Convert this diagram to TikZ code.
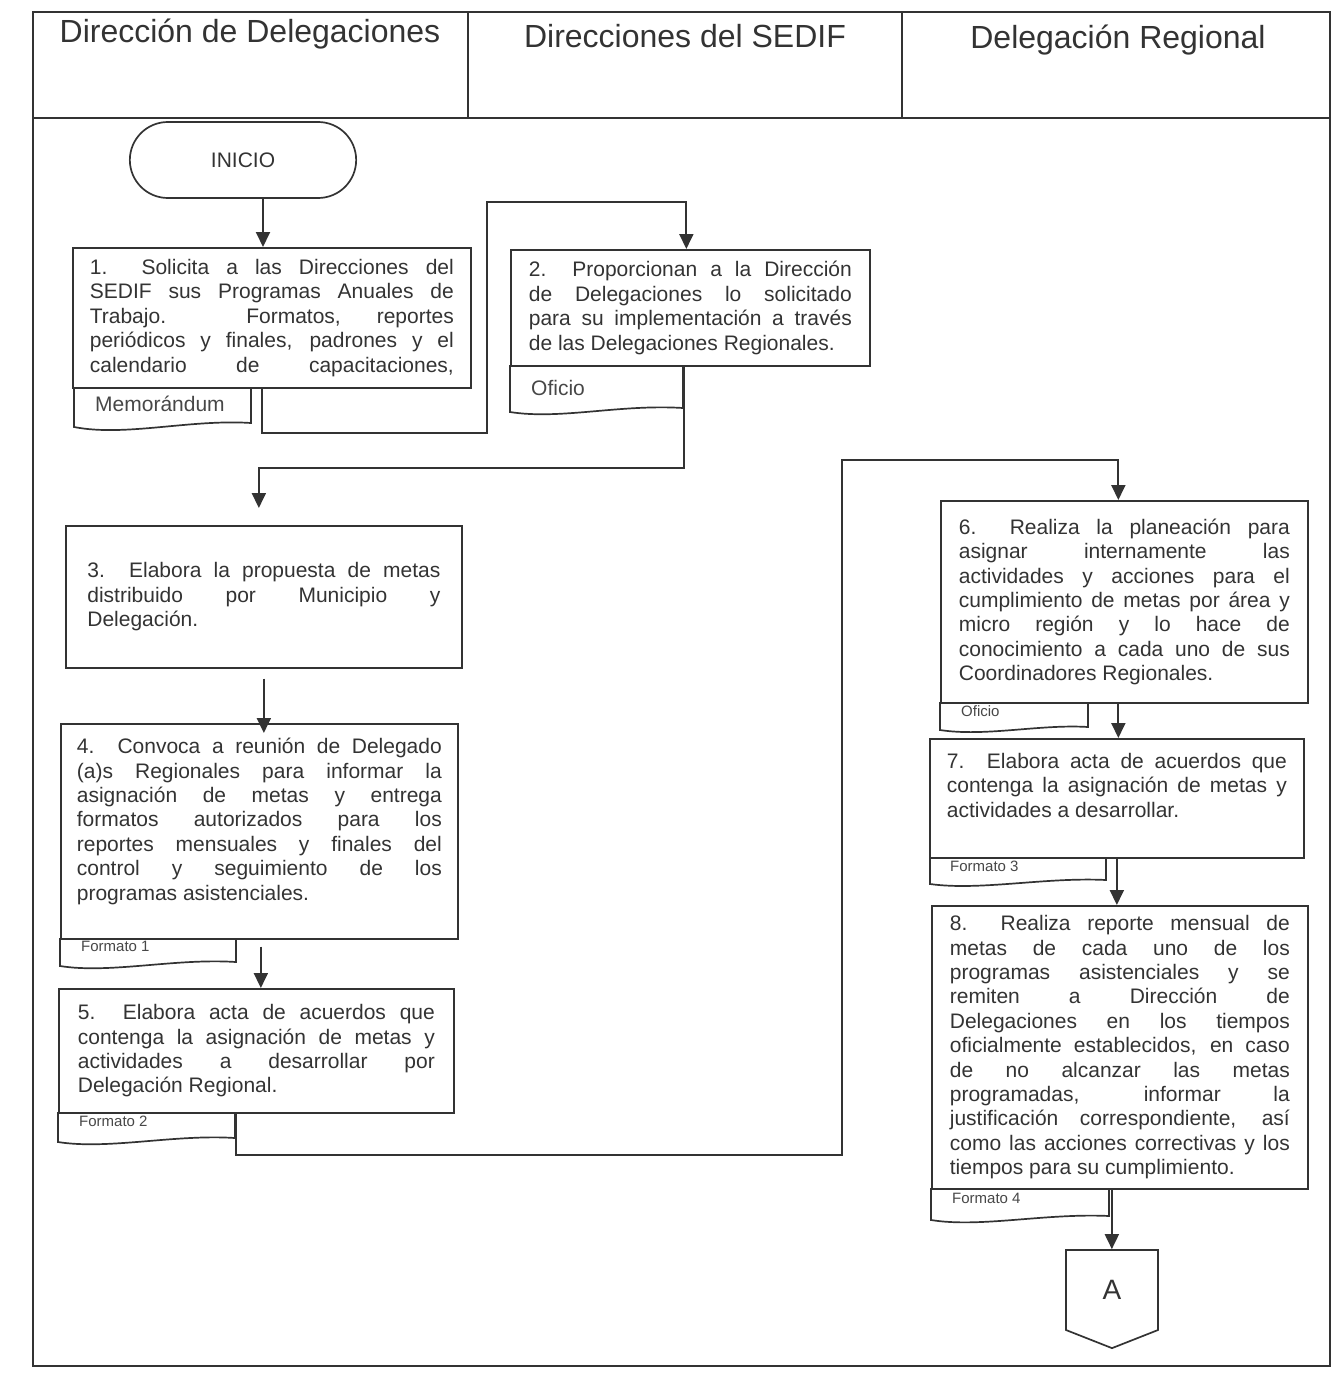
\documentclass[tikz,border=0pt]{standalone}
\usepackage{fontspec}
\setmainfont{Liberation Sans}
\usetikzlibrary{arrows.meta, shapes.misc, shapes.symbols}
\definecolor{ink}{HTML}{333333}
\newcommand\bodyfont{\fontsize{21}{24.4}\selectfont\tolerance=10000 \hyphenpenalty=10000 }

\begin{document}
\begin{tikzpicture}[x=1pt, y=-1pt,
    frame/.style = {
        draw=ink, line width=1.8pt
    },
    title/.style = {
        font=\fontsize{32}{38}\selectfont, text=ink
    },
    box/.style = {
        draw=ink, line width=1.7pt, anchor=north west, align=justify,
        font=\bodyfont, text=ink
    },
    tagline/.style = {
        draw=ink, line width=1.7pt
    },
    tagtext/.style = {
        anchor=north west, inner sep=0pt, text=ink!90
    },
    arrow/.style = {
        -{Triangle[length=15pt, width=14pt]}, line width=1.9pt, draw=ink
    }
]
\useasboundingbox (0,0) rectangle (1342,1375);

% Frame ── swimlanes
\draw[frame] (33,12) rectangle (1330,1366);
\draw[frame] (33,118) -- (1330,118);
\draw[frame] (468,12) -- (468,118);
\draw[frame] (902,12) -- (902,118);

\node[title] (lane1) at (250,34) {Dirección de Delegaciones};
\node[title] (lane2) at (685,36) {Direcciones del SEDIF};
\node[title] (lane3) at (1118,40) {Delegación Regional};

% Column 1 ── Dirección de Delegaciones
\node[draw=ink, line width=1.7pt, rounded rectangle, minimum width=233, minimum height=76,
      font=\bodyfont, text=ink] (inicio) at (243,160) {INICIO};

\node[box, text width=364, inner xsep=17, minimum width=398, minimum height=140] (b1) at (72,247)
    {1.~~Solicita a las Direcciones del\linebreak SEDIF sus Programas Anuales de\linebreak
     Trabajo. Formatos, reportes\linebreak periódicos y finales, padrones y el\linebreak
     calendario de capacitaciones,{\parfillskip=0pt\par}};

\node[box, text width=353, inner xsep=21.5, minimum width=396, minimum height=142] (b3) at (65,525)
    {3.~~Elabora la propuesta de metas\linebreak distribuido por Municipio y\linebreak Delegación.};

\node[box, text width=365, inner xsep=16, minimum width=397, minimum height=215] (b4) at (60,723)
    {4.~~Convoca a reunión de Delegado\linebreak (a)s Regionales para informar la\linebreak
     asignación de metas y entrega\linebreak formatos autorizados para los\linebreak
     reportes mensuales y finales del\linebreak control y seguimiento de los\linebreak
     programas asistenciales.\par\vspace{20pt}};

\node[box, text width=357, inner xsep=19, minimum width=395, minimum height=124] (b5) at (58,988)
    {5.~~Elabora acta de acuerdos que\linebreak contenga la asignación de metas y\linebreak
     actividades a desarrollar por\linebreak Delegación Regional.};

% Column 2 ── Direcciones del SEDIF
\node[box, text width=323, inner xsep=18, minimum width=359, minimum height=116] (b2) at (510,249)
    {2.~~Proporcionan a la Dirección\linebreak de Delegaciones lo solicitado\linebreak
     para su implementación a través\linebreak de las Delegaciones Regionales.};

% Column 3 ── Delegación Regional
\node[box, text width=331, inner xsep=18, minimum width=367, minimum height=202] (b6) at (940,500)
    {6.~~Realiza la planeación para\linebreak asignar internamente las\linebreak
     actividades y acciones para el\linebreak cumplimiento de metas por área y\linebreak
     micro región y lo hace de\linebreak conocimiento a cada uno de sus\linebreak
     Coordinadores Regionales.};

\node[box, text width=340, inner xsep=17, minimum width=374, minimum height=119] (b7) at (929,738)
    {7. Elabora acta de acuerdos que\linebreak contenga la asignación de metas y\linebreak
     actividades a desarrollar.\par\vspace{26pt}};

\node[box, text width=340, inner xsep=18, minimum width=376, minimum height=283] (b8) at (931,905)
    {8.~~Realiza reporte mensual de\linebreak metas de cada uno de los\linebreak
     programas asistenciales y se\linebreak remiten a Dirección de\linebreak
     Delegaciones en los tiempos\linebreak oficialmente establecidos, en caso\linebreak
     de no alcanzar las metas\linebreak programadas, informar la\linebreak
     justificación correspondiente, así\linebreak como las acciones correctivas y los\linebreak
     tiempos para su cumplimiento.};

\node[draw=ink, line width=1.7pt, signal, signal to=south, signal pointer angle=137,
      minimum width=92, minimum height=85, font=\fontsize{28}{32}\selectfont, text=ink]
      (conA) at (1112,1290) {A};

% Document tags
\draw[tagline] (74,387) -- (74,427) .. controls (125,437) and (190,419) .. (251,423) -- (251,387);
\node[tagtext, font=\fontsize{21}{24}\selectfont] (memo) at (95,396) {Memorándum};

\draw[tagline] (510,365) -- (510,412) .. controls (560,420) and (620,404) .. (683,408) -- (683,365);
\node[tagtext, font=\fontsize{21}{24}\selectfont] (ofi2) at (531,380) {Oficio};

\draw[tagline] (60,938) -- (60,966) .. controls (110,974) and (175,958) .. (236,962) -- (236,938);
\node[tagtext, font=\fontsize{15}{18}\selectfont] (fmt1) at (81,941) {Formato 1};

\draw[tagline] (58,1112) -- (58,1142) .. controls (108,1150) and (175,1134) .. (235,1138) -- (235,1112);
\node[tagtext, font=\fontsize{15}{18}\selectfont] (fmt2) at (79,1116) {Formato 2};

\draw[tagline] (940,702) -- (940,730) .. controls (985,737) and (1040,724) .. (1088,727) -- (1088,702);
\node[tagtext, font=\fontsize{15}{18}\selectfont] (ofi6) at (961,705) {Oficio};

\draw[tagline] (930,857) -- (930,884) .. controls (980,891) and (1045,877) .. (1106,880) -- (1106,857);
\node[tagtext, font=\fontsize{15}{18}\selectfont] (fmt3) at (950,861) {Formato 3};

\draw[tagline] (931,1188) -- (931,1220) .. controls (980,1228) and (1045,1213) .. (1109,1216) -- (1109,1188);
\node[tagtext, font=\fontsize{15}{18}\selectfont] (fmt4) at (952,1193) {Formato 4};

% Connectors
\coordinate (bend1) at (487,433);
\coordinate (bend2) at (487,202);
\coordinate (bend3) at (842,1155);
\coordinate (bend4) at (842,460);

\draw[arrow] ([xshift=20pt]inicio.south) -- ([xshift=20pt]inicio.south |- b1.north);
\draw[arrow] ([xshift=-10pt]b1.south) |- (bend1) -- (bend2) -| ([xshift=-4pt]b2.north);
\draw[arrow] ([xshift=-6pt]b2.south) |- ([xshift=-5pt, yshift=57pt]b3.north)
    -- ([xshift=-5pt, yshift=17pt]b3.north);
\draw[arrow] ([yshift=-10pt]b3.south) -- ([yshift=-10pt]b3.south |- b4.north);
\draw[arrow] ([xshift=1.5pt, yshift=-7pt]b4.south) -- ([xshift=1.5pt]b4.south |- b5.north);
\draw[arrow] ([xshift=-20pt]b5.south) |- (bend3) -- (bend4) -| ([xshift=-6pt]b6.north);
\draw[arrow] ([xshift=-6pt]b6.south) -- ([xshift=-6pt]b6.south |- b7.north);
\draw[arrow] (b7.south) -- (b7.south |- b8.north);
\draw[arrow] ([xshift=-8pt]b8.south) -- ([xshift=-8pt]b8.south |- conA.north);

\end{tikzpicture}
\end{document}
